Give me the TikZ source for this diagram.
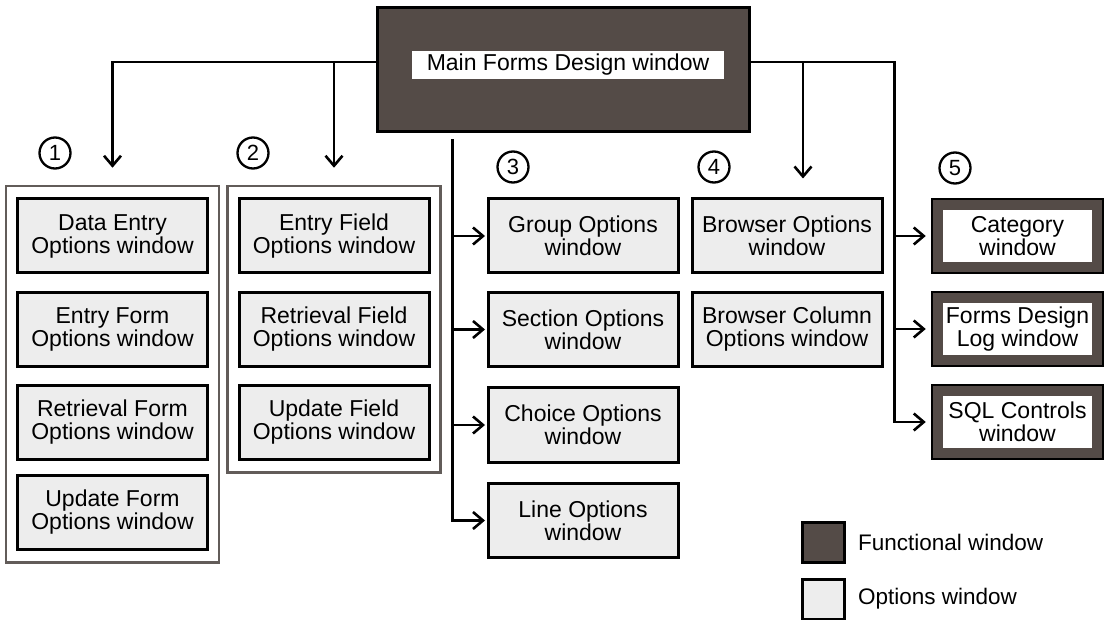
\documentclass[tikz,border=0pt]{standalone}
\usepackage{fontspec}
\setmainfont{Liberation Sans}
\usetikzlibrary{arrows.meta,fit,calc}
\definecolor{funcfill}{HTML}{544B47}
\definecolor{optfill}{HTML}{EDEDED}
\definecolor{framegray}{HTML}{625C59}
\begin{document}
\begin{tikzpicture}[x=1pt,y=-1pt,
  lbl/.style={font=\fontsize{23pt}{23pt}\selectfont, align=center},
  optbox/.style={lbl, rectangle, draw=black, line width=3pt, fill=optfill,
    minimum width=190pt, minimum height=74pt, inner sep=0pt},
  funcbox/.style={lbl, rectangle, draw=black, line width=2.5pt, fill=white,
    minimum width=171pt, minimum height=74pt, inner sep=0pt,
    path picture={\draw[funcfill, line width=22pt]
      (path picture bounding box.south west) rectangle
      (path picture bounding box.north east);}},
  mainbox/.style={rectangle, draw=black, line width=3pt, fill=funcfill,
    minimum width=372pt, minimum height=124pt, inner sep=0pt},
  groupframe/.style={rectangle, draw=framegray, line width=2.5pt,
    inner xsep=10pt, inner ysep=11.5pt},
  num/.style={circle, draw=black, line width=2.3pt, minimum size=31pt,
    inner sep=0pt, font=\fontsize{22pt}{22pt}\selectfont},
  legsq/.style={rectangle, draw=black, line width=3pt,
    minimum width=42pt, minimum height=40pt, inner sep=0pt},
  legtext/.style={anchor=west, font=\fontsize{22.5pt}{22.5pt}\selectfont},
  wire/.style={line width=2.6pt},
  arr/.style={wire, -{Straight Barb[length=10pt,width=17pt,line width=2.6pt]}}
]
\useasboundingbox (0,0) rectangle (1104,620);

% main window
\node[mainbox] (main) at (563,70) {};
\node[lbl, fill=white, minimum width=312pt, minimum height=28pt, inner sep=0pt]
  (mainlabel) at (568,65) {Main Forms Design window};

% group 1
\node[optbox] (d1) at (112.5,236)   {Data Entry\\Options window};
\node[optbox] (d2) at (112.5,329.5) {Entry Form\\Options window};
\node[optbox] (d3) at (112.5,422.5) {Retrieval Form\\Options window};
\node[optbox] (d4) at (112.5,512.5) {Update Form\\Options window};
\node[groupframe, fit=(d1)(d4)] (g1) {};

% group 2
\node[optbox] (f1) at (334,236)   {Entry Field\\Options window};
\node[optbox] (f2) at (334,329.5) {Retrieval Field\\Options window};
\node[optbox] (f3) at (334,422.5) {Update Field\\Options window};
\node[groupframe, fit=(f1)(f3)] (g2) {};

% group 3
\node[optbox] (c3a) at (583,236)   {Group Options\\window};
\node[optbox] (c3b) at (583,329.5) {Section Options\\window};
\node[optbox] (c3c) at (583,425)   {Choice Options\\window};
\node[optbox] (c3d) at (583,520.5) {Line Options\\window};

% group 4
\node[optbox] (c4a) at (787,236)   {Browser Options\\window};
\node[optbox] (c4b) at (787,329.5) {Browser Column\\Options window};

% group 5
\node[funcbox] (c5a) at (1017.5,236) {Category\\window};
\node[funcbox] (c5b) at (1017.5,329) {Forms Design\\Log window};
\node[funcbox] (c5c) at (1017.5,422) {SQL Controls\\window};

% group numbers
\node[num] (n1) at (55,153)  {1};
\node[num] (n2) at (253,153) {2};
\node[num] (n3) at (513,167) {3};
\node[num] (n4) at (714,167) {4};
\node[num] (n5) at (955,168) {5};

% connectors
\coordinate (lj) at ([yshift=8pt]main.west);
\coordinate (rj) at ([yshift=8pt]main.east);
\draw[arr, shorten >=17pt] (lj) -| (g1.north);
\draw[arr, shorten >=17pt] (g2.north |- lj) -- (g2.north);

\coordinate (trunk) at ([xshift=77pt,yshift=-6pt]main.south west);
\draw[arr, shorten >=1.5pt] (trunk) |- (c3d.west);
\foreach \b in {c3a,c3b,c3c}
  \draw[arr, shorten >=1.5pt] (trunk |- \b.west) -- (\b.west);

\coordinate (rx) at ([xshift=11pt]c4a.east);
\draw[arr, shorten >=5pt] (rj) -| (rx |- c5c.west) -- (c5c.west);
\foreach \b in {c5a,c5b}
  \draw[arr, shorten >=5pt] (rx |- \b.west) -- (\b.west);

\coordinate (c4in) at ([xshift=16pt]c4a.north);
\draw[arr, shorten >=19pt] (c4in |- rj) -- (c4in);

% legend
\node[legsq, fill=funcfill] (legf) at (823,542) {};
\node[legsq, fill=optfill]  (lego) at (823,599) {};
\node[legtext] (legft) at ([xshift=9pt]legf.east) {Functional window};
\node[legtext] (legot) at ([xshift=9pt]lego.east) {Options window};
\end{tikzpicture}
\end{document}
